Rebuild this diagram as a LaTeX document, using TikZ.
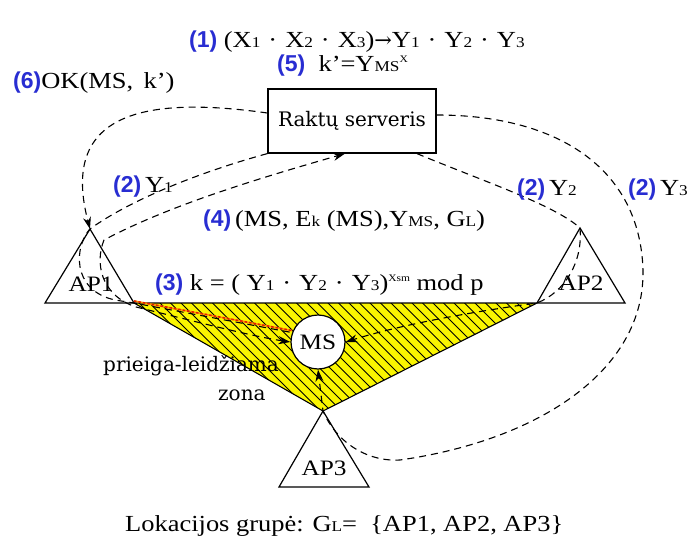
\documentclass[tikz,border=0pt]{standalone}
\usepackage{fontspec}
\setmainfont{Liberation Serif}[FakeStretch=1.15]
\newfontfamily\numfont{Liberation Sans}
\newfontfamily\widefont{DejaVu Serif}
\usetikzlibrary{arrows.meta,calc}
\definecolor{numblue}{RGB}{40,45,210}
\definecolor{zoneyellow}{RGB}{250,245,0}
\definecolor{redline}{RGB}{225,30,0}
\definecolor{orangeline}{RGB}{255,150,0}
\newcommand\nb[1]{{\numfont\bfseries\color{numblue}\fontsize{23}{25}\selectfont #1}}
\newcommand\sm[1]{{\fontsize{15}{15}\selectfont #1}}
\newcommand\supx[1]{\raisebox{9pt}{\fontsize{10}{10}\selectfont #1}}
\newcommand\dt{\hspace{8pt}·\hspace{8pt}}
\tikzset{
  txt/.style={inner sep=0pt, anchor=base west, font=\fontsize{23}{26}\selectfont},
  conn/.style={line width=1.1pt, dash pattern=on 7pt off 5pt},
  tipend/.style={-{Stealth[length=12pt,width=8pt]}},
  tri/.style={draw, line width=1.2pt, line join=miter},
  aplabel/.style={inner sep=0pt, font=\fontsize{22}{24}\selectfont},
}
\begin{document}
\begin{tikzpicture}[x=1pt,y=-1pt]
\useasboundingbox (0,0) rectangle (694,538);
\fill[white] (0,0) rectangle (694,538);

% access point triangles
\coordinate (a1) at (90,229);  \coordinate (a1l) at (45,303);  \coordinate (a1r) at (134,303);
\coordinate (a2) at (580,228); \coordinate (a2l) at (537,303); \coordinate (a2r) at (625,303);
\coordinate (a3) at (323,411); \coordinate (a3l) at (279,487); \coordinate (a3r) at (369,487);

% zone
\fill[zoneyellow] (a1r) -- (a2l) -- (a3) -- cycle;
\begin{scope}
  \clip (a1r) -- (a2l) -- (a3) -- cycle;
  \foreach \k in {0,...,52} \draw[line width=0.8pt] (\k*10.5,290) -- ++(140,140);
\end{scope}
\draw[line width=1.1pt, line join=miter] (a1r) -- (a2l) -- (a3) -- cycle;

\draw[tri] (a1) -- (a1l) -- (a1r) -- cycle;
\draw[tri] (a2) -- (a2l) -- (a2r) -- cycle;
\draw[tri] (a3) -- (a3l) -- (a3r) -- cycle;

\node[aplabel] (ap1) at (91,284) {AP1};
\node[aplabel] (ap2) at (581,283) {AP2};
\node[aplabel] (ap3) at (324,468) {AP3};

% server and mobile station
\node[draw, line width=1.2pt, minimum width=168pt, minimum height=64pt, inner sep=0pt,
      font=\widefont\fontsize{20}{24}\selectfont] (srv) at (352,121) {Raktų serveris};
\node[draw, circle, fill=white, line width=1.2pt, minimum size=54pt, inner sep=0pt,
      font=\fontsize{22}{24}\selectfont] (ms) at (318,342) {MS};

% connectors
\draw[conn, tipend] ([yshift=8pt]srv.west) .. controls (140,95) and (60,115) .. (a1);
\draw[conn] (srv.south west) .. controls (200,172) and (130,200) .. (a1)
   .. controls (75,245) and (70,290) .. (115,300) .. controls (125,302) .. (a1r) -- (ms.160);
\draw[conn, {Stealth[length=12pt,width=8pt]}-{Stealth[length=12pt,width=8pt]}]
   (ms.west) .. controls (250,336) and (190,320) .. (136,307)
   .. controls (100,295) and (95,262) .. (104,240)
   .. controls (170,205) and (260,178) .. ([xshift=-7pt]srv.south);
\draw[line width=1.6pt, orangeline] ([yshift=2pt]a1r) -- ([yshift=2pt]ms.160);
\draw[line width=1.6pt, redline, dash pattern=on 2.5pt off 2pt] ([yshift=2pt]a1r) -- ([yshift=2pt]ms.160);
\draw[conn, tipend] ([xshift=65pt]srv.south) .. controls (480,180) and (555,205) .. (a2)
   .. controls (583,262) and (565,292) .. (a2l)
   .. controls (470,312) and (400,325) .. (ms.east);
\draw[conn, tipend] ([yshift=6pt]srv.east) .. controls (560,115) and (640,170) .. (643,270)
   .. controls (645,370) and (540,440) .. (400,460)
   .. controls (365,462) and (335,440) .. (a3) -- (ms.south);

% labels
\node[txt] (t1) at (189,47) {\nb{(1)}\ (X\sm{1}\dt X\sm{2}\dt X\sm{3}){\widefont\fontsize{21}{24}\selectfont→}Y\sm{1}\dt Y\sm{2}\dt Y\sm{3}};
\node[txt] (t5) at (277,71) {\nb{(5)}\ \ k’=Y\sm{MS}\supx{X}};
\node[txt] (t6) at (13,88) {\nb{(6)}OK(MS,\ \,k’)};
\node[txt] (t2a) at (113,192) {\nb{(2)}\,Y\sm{1}};
\node[txt] (t2b) at (517,195) {\nb{(2)}\,Y\sm{2}};
\node[txt] (t2c) at (628,195) {\nb{(2)}\,Y\sm{3}};
\node[txt] (t4) at (203,226) {\nb{(4)}\,(MS, E\sm{k} (MS),Y\sm{MS}, G\sm{L})};
\node[txt] (t3) at (155,290) {\nb{(3)}\ k = ( Y\sm{1}\dt Y\sm{2}\dt Y\sm{3})\supx{Xsm} mod p};
\node[txt, font=\widefont\fontsize{20}{24}\selectfont] (z1) at (103,371) {prieiga-leidžiama};
\node[txt, font=\widefont\fontsize{20}{24}\selectfont] (z2) at (218,400) {zona};
\node[txt] (grp) at (125,531) {Lokacijos grupė: G\sm{L}=\ \ \{AP1, AP2, AP3\}};
\end{tikzpicture}
\end{document}
